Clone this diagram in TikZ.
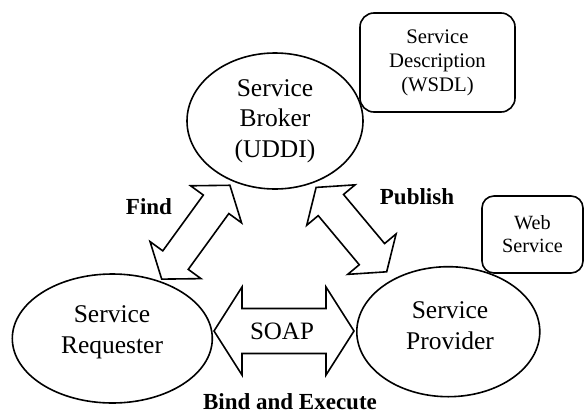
\documentclass[tikz,border=0pt]{standalone}
\usepackage{fontspec}
\setmainfont{Liberation Serif}
\usetikzlibrary{shapes.geometric}
\newcommand\blockarrow[7]{% center, angle, length, head width, shaft width, head length, name
  \begin{scope}[shift={#1}, rotate=#2]
    \draw[blockline] (-#3/2,0) -- (-#3/2+#6,#4/2) -- (-#3/2+#6,#5/2) -- (#3/2-#6,#5/2)
      -- (#3/2-#6,#4/2) -- (#3/2,0) -- (#3/2-#6,-#4/2) -- (#3/2-#6,-#5/2)
      -- (-#3/2+#6,-#5/2) -- (-#3/2+#6,-#4/2) -- cycle;
    \coordinate (#7) at (0,0);
  \end{scope}}
\begin{document}
\begin{tikzpicture}[x=1pt,y=-1pt,
  blockline/.style={line width=1.6pt, line join=miter, fill=white},
  bigell/.style={ellipse, draw, line width=1.6pt, inner sep=0pt},
  etext/.style={align=center, font=\fontsize{25.5}{30.5}\selectfont},
  rbox/.style={draw, line width=1.6pt, rounded corners=14pt, inner sep=0pt, align=center},
  lab/.style={font=\fontsize{23}{27}\selectfont\bfseries, inner sep=0pt}]
\useasboundingbox (0,0) rectangle (584,413);
% boxes
\node[rbox, minimum width=155pt, minimum height=99pt,
      font=\fontsize{20.7}{24}\selectfont] (wsdl) at (437.5,62.5) {Service\\Description\\(WSDL)};
\node[rbox, minimum width=101pt, minimum height=77pt, rounded corners=12pt,
      font=\fontsize{20.2}{23}\selectfont] (web) at (532.5,234.5) {Web\\Service};
% ellipses
\node[bigell, fill=white, minimum width=176pt, minimum height=136pt] (broker) at (275,121) {};
\node[etext] (brokertext) at (broker.center) {Service\\Broker\\(UDDI)};
\node[bigell, minimum width=200pt, minimum height=129pt] (req) at (112.3,338.5) {};
\node[etext] (reqtext) at (112,332.5) {Service\\Requester};
\node[bigell, minimum width=183pt, minimum height=130pt] (prov) at (448.3,331.7) {};
\node[etext] (provtext) at (450,325.5) {Service\\Provider};
% block arrows
\blockarrow{(195.8,232.2)}{54}{116}{63}{31.5}{23.5}{findc}
\blockarrow{(351.4,229.6)}{-50.1}{110}{63}{33}{23}{pubc}
\blockarrow{(284,331)}{0}{140}{88}{45}{28}{soapc}
\node[font=\fontsize{25}{30}\selectfont] (soap) at (282,331) {SOAP};
% labels
\node[lab] (find) at (149,207) {Find};
\node[lab] (publish) at (417,197) {Publish};
\node[lab] (bind) at (290,401.5) {Bind and Execute};
\end{tikzpicture}
\end{document}
